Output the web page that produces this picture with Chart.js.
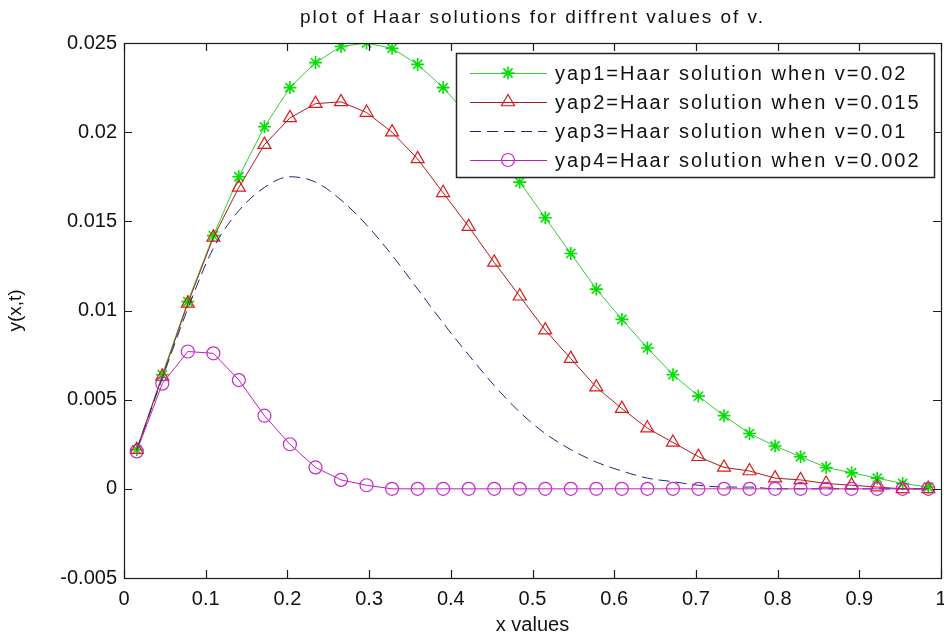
<!DOCTYPE html>
<html>
<head>
<meta charset="utf-8">
<script src="https://cdn.jsdelivr.net/npm/chart.js@4.4.1/dist/chart.umd.min.js"></script>
<style>
html,body{margin:0;padding:0;background:#fff;}
#wrap{width:944px;height:637px;}
</style>
</head>
<body>
<div id="wrap"><canvas id="c" width="944" height="637"></canvas></div>
<script>
// ---- data ----
const chartTitle = 'plot of Haar solutions for diffrent values of v.';
const xTitle = 'x values';
const yTitle = 'y(x,t)';

const xValues = [0.0156,0.0469,0.0781,0.1094,0.1406,0.1719,0.2031,0.2344,0.2656,0.2969,0.3281,0.3594,0.3906,0.4219,0.4531,0.4844,0.5156,0.5469,0.5781,0.6094,0.6406,0.6719,0.7031,0.7344,0.7656,0.7969,0.8281,0.8594,0.8906,0.9219,0.9531,0.9844];

const yap1 = [0.0022,0.0064,0.0105,0.0142,0.0175,0.0203,0.0225,0.0239,0.0248,0.0250,0.0247,0.0238,0.0225,0.0209,0.0191,0.0172,0.0152,0.0132,0.0112,0.0095,0.0079,0.0064,0.0052,0.0041,0.0031,0.0024,0.0018,0.0012,0.0009,0.0006,0.0003,0.0001];
const yap2 = [0.0022,0.0063,0.0104,0.0141,0.0169,0.0193,0.0208,0.0216,0.0217,0.0211,0.0200,0.0185,0.0166,0.0147,0.0127,0.0108,0.0089,0.0073,0.0057,0.0045,0.0034,0.0026,0.0018,0.0012,0.0010,0.0006,0.0005,0.0003,0.0002,0.0001,0.0000,0.0000];
const yap3 = [0.0022,0.0062,0.0101,0.0135,0.0156,0.0169,0.0175,0.0172,0.0162,0.0148,0.0131,0.0112,0.0093,0.0075,0.0058,0.0043,0.0031,0.0022,0.0015,0.0010,0.0006,0.0004,0.0002,0.0001,0.0001,0.0000,0.0000,0.0000,0.0000,0.0000,0.0000,0.0000];
const yap4 = [0.0021,0.0059,0.0077,0.0076,0.0061,0.0041,0.0025,0.0012,0.0005,0.0002,0.0000,0.0000,0.0000,0.0000,0.0000,0.0000,0.0000,0.0000,0.0000,0.0000,0.0000,0.0000,0.0000,0.0000,0.0000,0.0000,0.0000,0.0000,0.0000,0.0000,0.0000,0.0000];

const seriesLabels = [
  'yap1=Haar solution when v=0.02',
  'yap2=Haar solution when v=0.015',
  'yap3=Haar solution when v=0.01',
  'yap4=Haar solution when v=0.002'
];

const xTickLabels = ['0','0.1','0.2','0.3','0.4','0.5','0.6','0.7','0.8','0.9','1'];
const yTickLabels = ['-0.005','0','0.005','0.01','0.015','0.02','0.025'];
const xMin = 0, xMax = 1, xStep = 0.1;
const yMin = -0.005, yMax = 0.025, yStep = 0.005;

// ---- build chart ----
const pts = ys => xValues.map((x, i) => ({x: x, y: ys[i]}));
const SANS = "'Liberation Sans',Arial,Helvetica,sans-serif";

const styles = [
  {line:'rgb(50,205,50)', mark:'rgb(0,225,0)', point:'star', r:6.5, dash:[]},
  {line:'rgb(165,30,30)', mark:'rgb(225,25,25)', point:'triangle', r:7.5, dash:[]},
  {line:'rgb(30,40,120)', mark:'rgb(30,40,120)', point:false, r:0, dash:[11,6]},
  {line:'rgb(190,30,190)', mark:'rgb(200,40,200)', point:'circle', r:6.5, dash:[]}
];
const seriesData = [yap1, yap2, yap3, yap4];

const datasets = seriesData.map((ys, i) => ({
  label: seriesLabels[i],
  data: pts(ys),
  borderColor: styles[i].line,
  borderWidth: 1,
  borderDash: styles[i].dash,
  backgroundColor: 'rgba(0,0,0,0)',
  pointStyle: styles[i].point,
  pointRadius: styles[i].r,
  pointBorderColor: styles[i].mark,
  pointBackgroundColor: 'rgba(0,0,0,0)',
  pointBorderWidth: i === 0 ? 1.6 : 1.2,
  pointHoverRadius: styles[i].r,
  tension: 0,
  cubicInterpolationMode: i === 2 ? 'monotone' : 'default',
  fill: false,
  order: 4 - i
}));

function drawMarker(ctx, style, x, y, r, color, lw) {
  ctx.save();
  ctx.strokeStyle = color; ctx.lineWidth = lw;
  ctx.beginPath();
  if (style === 'star') {
    for (let k = 0; k < 4; k++) {
      const a = k * Math.PI / 4;
      ctx.moveTo(x - Math.cos(a) * r, y - Math.sin(a) * r);
      ctx.lineTo(x + Math.cos(a) * r, y + Math.sin(a) * r);
    }
  } else if (style === 'triangle') {
    ctx.moveTo(x, y - r);
    ctx.lineTo(x + r * Math.sin(Math.PI * 2 / 3), y + r * 0.5);
    ctx.lineTo(x - r * Math.sin(Math.PI * 2 / 3), y + r * 0.5);
    ctx.closePath();
  } else if (style === 'circle') {
    ctx.arc(x, y, r, 0, Math.PI * 2);
  }
  ctx.stroke();
  ctx.restore();
}

const framePlugin = {
  id: 'frame',
  afterDraw(chart) {
    const ctx = chart.ctx;
    const a = chart.chartArea;
    const xs = chart.scales.x, ys = chart.scales.y;
    const tl = 8;
    ctx.save();
    ctx.strokeStyle = '#1a1a1a';
    ctx.lineWidth = 1.2;
    ctx.strokeRect(Math.round(a.left) + 0.5, Math.round(a.top) + 0.5, Math.round(a.right - a.left), Math.round(a.bottom - a.top));
    ctx.beginPath();
    xs.ticks.forEach(t => {
      const px = Math.round(xs.getPixelForValue(t.value)) + 0.5;
      ctx.moveTo(px, a.bottom); ctx.lineTo(px, a.bottom - tl);
      ctx.moveTo(px, a.top); ctx.lineTo(px, a.top + tl);
    });
    ys.ticks.forEach(t => {
      const py = Math.round(ys.getPixelForValue(t.value)) + 0.5;
      ctx.moveTo(a.left, py); ctx.lineTo(a.left + tl, py);
      ctx.moveTo(a.right, py); ctx.lineTo(a.right - tl, py);
    });
    ctx.stroke();

    // title
    ctx.fillStyle = '#111';
    ctx.font = '19px ' + SANS;
    ctx.textAlign = 'center';
    ctx.textBaseline = 'middle';
    try { ctx.letterSpacing = '2px'; } catch (e) {}
    ctx.fillText(chartTitle, (a.left + a.right) / 2, 18);

    // legend
    const lx = 456, ly = 53, lw = 478, lh = 124;
    ctx.fillStyle = '#fff';
    ctx.fillRect(lx, ly, lw, lh);
    ctx.strokeStyle = '#222';
    ctx.lineWidth = 1.5;
    ctx.strokeRect(lx + 0.5, ly + 0.5, lw, lh);
    ctx.font = '20px ' + SANS;
    ctx.textAlign = 'left';
    try { ctx.letterSpacing = '2px'; } catch (e) {}
    chart.data.datasets.forEach((ds, i) => {
      const cy = ly + 20 + i * 29;
      ctx.save();
      ctx.strokeStyle = ds.borderColor;
      ctx.lineWidth = 1.2;
      ctx.setLineDash(ds.borderDash || []);
      ctx.beginPath();
      ctx.moveTo(470, cy + 0.5); ctx.lineTo(547, cy + 0.5);
      ctx.stroke();
      ctx.restore();
      if (ds.pointStyle) drawMarker(ctx, ds.pointStyle, 508, cy, ds.pointRadius, ds.pointBorderColor, ds.pointBorderWidth);
      ctx.fillStyle = '#111';
      ctx.fillText(ds.label, 555, cy + 1);
    });
    ctx.restore();
  }
};

new Chart(document.getElementById('c'), {
  type: 'line',
  data: { datasets: datasets },
  options: {
    responsive: false,
    devicePixelRatio: 1,
    animation: false,
    events: [],
    layout: { autoPadding: false, padding: { top: 43, right: 3, left: 0, bottom: 0 } },
    plugins: { legend: { display: false }, title: { display: false }, tooltip: { enabled: false } },
    scales: {
      x: {
        type: 'linear', min: xMin, max: xMax,
        afterFit: s => { s.height = 59; s.paddingRight = 0; s.paddingLeft = 0; },
        grid: { display: false, drawTicks: false },
        border: { display: false },
        ticks: {
          stepSize: xStep, padding: 9, color: '#111', maxRotation: 0, autoSkip: false,
          font: { family: SANS, size: 20 },
          callback: v => xTickLabels[Math.round((v - xMin) / xStep)]
        },
        title: { display: true, text: xTitle, color: '#111', font: { family: SANS, size: 20 }, padding: { top: 0, bottom: 0 } }
      },
      y: {
        type: 'linear', min: yMin, max: yMax,
        afterFit: s => { s.width = 124; s.paddingTop = 0; s.paddingBottom = 0; },
        grid: { display: false, drawTicks: false },
        border: { display: false },
        ticks: {
          stepSize: yStep, padding: 7, color: '#111', autoSkip: false,
          font: { family: SANS, size: 20 },
          callback: v => yTickLabels[Math.round((v - yMin) / yStep)]
        },
        title: { display: true, text: yTitle, color: '#111', font: { family: SANS, size: 19 }, padding: { top: 4, bottom: 0 } }
      }
    }
  },
  plugins: [framePlugin]
});
</script>
</body>
</html>
